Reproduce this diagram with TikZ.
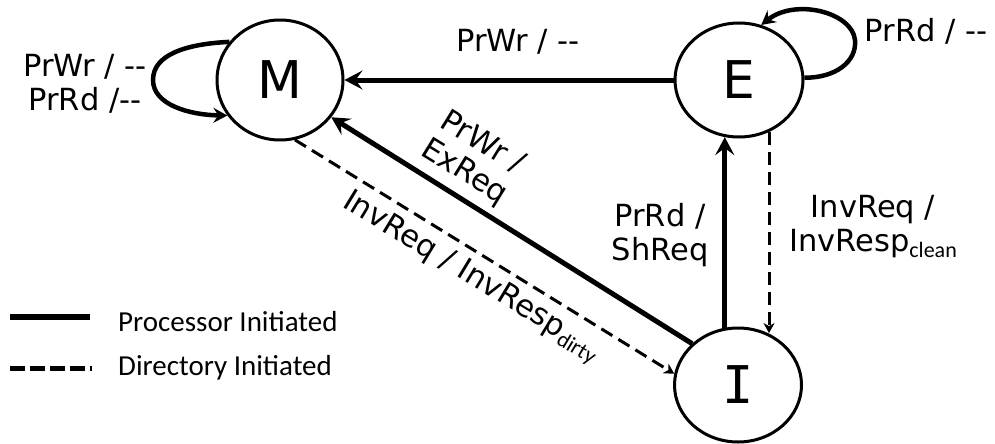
\documentclass[tikz,border=0pt]{standalone}
\usepackage{fontspec}
\setmainfont{DejaVu Sans}
\newfontfamily\legendfont{Carlito}
\newfontfamily\subfont{Carlito}
\newfontfamily\barfont{DejaVu Sans Mono}
\usetikzlibrary{arrows.meta,shapes.geometric}
\newcommand{\lowsub}[1]{\raisebox{-6pt}{\subfont\fontsize{22}{22}\selectfont #1}}
\begin{document}
\begin{tikzpicture}[x=1pt,y=-1pt,
  state/.style={ellipse, draw, line width=3pt, inner sep=0pt, font=\fontsize{52}{52}\selectfont},
  proc/.style={line width=5pt, -{Stealth[length=18pt,width=19pt,inset=7pt]}},
  dir/.style={line width=3pt, dash pattern=on 13pt off 7pt, -{Stealth[length=10pt,width=11pt,inset=3pt]}},
  loopline/.style={line width=4.5pt, -{Stealth[length=14pt,width=15pt,inset=5pt]}},
  lbl/.style={font=\fontsize{30.5}{34}\selectfont, align=center, inner sep=0pt},
  leg/.style={font=\legendfont\fontsize{29}{34}\selectfont, anchor=west, inner sep=0pt},
  legsolid/.style={line width=5.5pt},
  legdash/.style={line width=5pt, dash pattern=on 15pt off 5pt}]
\useasboundingbox (0,0) rectangle (995,444);
% states
\node[state, minimum width=126pt, minimum height=120pt] (M) at (280,80) {M};
\node[state, minimum width=128pt, minimum height=114pt] (E) at (739,80) {E};
\node[state, minimum width=127pt, minimum height=114pt, font=\barfont\fontsize{52}{52}\selectfont] (I) at (738,385) {I};
% connectors
\draw[proc] (E.west) -- (M.east);
\draw[proc] (I.138) -- (M.-36);
\draw[dir] (M.-76) -- (I.170);
\draw[proc] (I.103) -- (I.103 |- E.256);
\draw[dir] (E.-60) -- (E.-60 |- I.60);
% self loops
\draw[loopline] (M.143) .. controls (185,44) and (153,55) .. (153,80) .. controls (153,105) and (190,115) .. (M.214);
\draw[loopline] (E.2) .. controls (835,78) and (857,62) .. (855,40) .. controls (852,12) and (795,-2) .. (E.68);
% labels
\node[lbl] (lm) at (85,84) {PrWr / -{}-\\PrRd /-{}-};
\node[lbl] (lem) at (518,42) {PrWr / -{}-};
\node[lbl] (le) at (926,31) {PrRd / -{}-};
\node[lbl, rotate=-31.7] (lim) at (473,158) {PrWr /\\ExReq};
\node[lbl, rotate=-31.3, anchor=base west] (lmi) at (341,206) {InvReq / InvResp\lowsub{dirty}};
\node[lbl] (lie) at (660,235) {PrRd /\\ShReq};
\node[lbl] (lei) at (873,227) {InvReq /\\InvResp\lowsub{clean}};
% legend
\coordinate (s1) at (10,317);
\coordinate (s2) at (90,317);
\coordinate (d1) at (10,368);
\coordinate (d2) at (92,368);
\draw[legsolid] (s1) -- (s2);
\draw[legdash] (d1) -- (d2);
\node[leg] (tp) at (118,322) {Processor Initiated};
\node[leg] (td) at (118,368) {Directory Initiated};
\end{tikzpicture}
\end{document}
